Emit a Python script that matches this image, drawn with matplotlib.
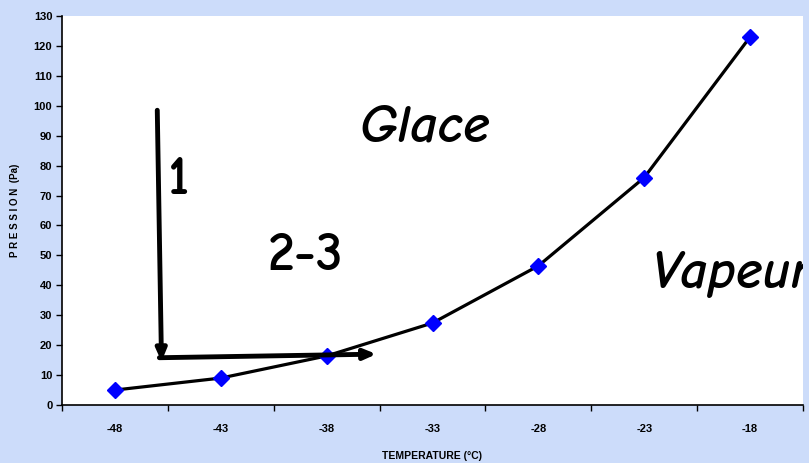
import matplotlib.pyplot as plt
import numpy as np

temperatures = ['-48', '-43', '-38', '-33', '-28', '-23', '-18']
pressions = [5.0, 9.0, 16.4, 27.4, 46.5, 76.0, 123.0]

bg = '#CCDCFA'
fig = plt.figure(figsize=(8.09, 4.63), dpi=100, facecolor=bg)
ax = fig.add_axes([62 / 809, 58 / 463, 741 / 809, 389 / 463])
ax.set_facecolor('white')

x = np.arange(len(temperatures))
ax.plot(x, pressions, color='black', lw=2.3, marker='D', ms=8.5,
        mfc='#0000FF', mec='#0000FF', zorder=3)

ax.set_xlim(-0.5, len(temperatures) - 0.5)
ax.set_ylim(0, 130)
ax.set_yticks(range(0, 131, 10))
ax.set_xticks(x)
ax.set_xticklabels(temperatures)
ax.set_xticks(np.arange(-0.5, len(temperatures)), minor=True)
ax.tick_params(axis='x', which='major', length=0, pad=14)
ax.tick_params(axis='x', which='minor', length=4, width=1, direction='out')
ax.tick_params(axis='y', length=4, width=1, direction='out', pad=3)
for lab in ax.get_xticklabels() + ax.get_yticklabels():
    lab.set_fontfamily('Liberation Sans')
    lab.set_fontweight('bold')
    lab.set_fontsize(8)
for s in ['top', 'right']:
    ax.spines[s].set_visible(False)
for s in ['left', 'bottom']:
    ax.spines[s].set_linewidth(1.2)

ax.set_xlabel('TEMPERATURE (°C)', family='Liberation Sans', weight='bold',
              fontsize=7.5, labelpad=12)
ax.set_ylabel('P R E S S I O N  (Pa)', family='Liberation Sans', weight='bold',
              fontsize=7, labelpad=10)

# arrows
arrow = dict(arrowstyle='-|>,head_length=0.7,head_width=0.3', lw=3.5,
             color='black', shrinkA=0, shrinkB=0)
ax.annotate('', xy=(0.44, 14.5), xytext=(0.40, 98.5), arrowprops=arrow)
ax.annotate('', xy=(2.47, 17.0), xytext=(0.42, 15.8), arrowprops=arrow)

hand = ['Comic Neue', 'DejaVu Sans']
ax.text(2.93, 92.5, 'Glace', fontsize=39, style='italic', weight='bold',
        family=hand, ha='center', va='center')
ax.text(0.60, 75, '1', fontsize=39, weight='bold', family=hand,
        ha='center', va='center')
ax.text(1.80, 49.5, '2-3', fontsize=39, weight='bold', family=hand,
        ha='center', va='center')
ax.text(5.07, 43.5, 'Vapeur', fontsize=39, style='italic', weight='bold',
        family=hand, ha='left', va='center', clip_on=True)

fig.savefig('out.png', dpi=100, facecolor=bg)
